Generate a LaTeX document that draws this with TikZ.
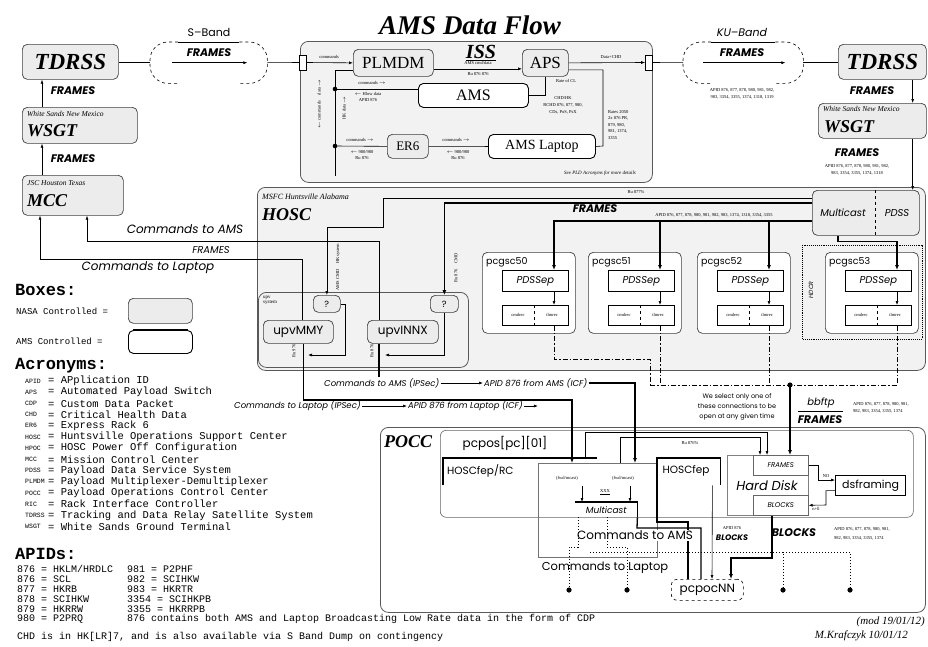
\documentclass[tikz,border=0pt]{standalone}
\usepackage{fontspec}
\setmainfont{Liberation Serif}
\setsansfont{Poppins}
\setmonofont{Liberation Mono}
\usetikzlibrary{arrows.meta}
\definecolor{boxgray}{HTML}{ECECEC}
\definecolor{areagray}{HTML}{F2F2F2}
\newcommand{\myfs}[1]{\fontsize{#1}{#1}\selectfont}
\tikzset{
  nasa/.style={draw=black!75, line width=0.7pt, rounded corners=5pt, fill=boxgray, inner sep=0pt, anchor=north west},
  amsbx/.style={draw=black, line width=0.9pt, rounded corners=5pt, fill=white, inner sep=0pt, anchor=north west},
  area/.style={draw=black!65, line width=0.8pt, rounded corners=8pt, fill=areagray, inner sep=0pt, anchor=north west},
  plainbox/.style={draw=black, line width=0.6pt, fill=white, inner sep=0pt, anchor=north west},
  spot/.style={inner sep=0pt, anchor=north west},
  ln/.style={line width=0.6pt},
  tk/.style={line width=1.3pt},
  arr/.style={-{Latex[length=4pt,width=3pt]}, line width=0.6pt},
  tkarr/.style={-{Latex[length=5pt,width=4pt]}, line width=1.3pt},
  dd/.style={line width=1pt, dash pattern=on 5pt off 2pt on 1.5pt off 2pt},
  dt/.style={line width=1pt, dotted},
  tiny/.style={font=\myfs{4.5}, inner sep=0pt},
  lab/.style={font=\sffamily\itshape\myfs{12}, inner sep=0pt},
  midlab/.style={font=\sffamily\itshape\myfs{8.5}, inner sep=1pt, anchor=west},
  frmlab/.style={font=\sffamily\bfseries\itshape\myfs{11}, inner sep=0pt},
  ttl/.style={font=\bfseries\itshape\myfs{18}, inner sep=0pt, anchor=west},
  sub/.style={font=\itshape\myfs{7.5}, inner sep=0pt, anchor=west},
  monol/.style={font=\ttfamily\myfs{10}, inner sep=0pt, anchor=west},
  monoh/.style={font=\ttfamily\bfseries\myfs{17}, inner sep=0pt, anchor=west},
}
\begin{document}
\begin{tikzpicture}[x=1pt,y=-1pt]
\useasboundingbox (0,0) rectangle (928,646);
\fill[white] (0,0) rectangle (928,646);

% ================= areas
\node[area, minimum width=352, minimum height=141] (iss) at (300,41) {};
\node[area, minimum width=668, minimum height=183] (hosc) at (257,187) {};
\node[area, fill=white, minimum width=545, minimum height=185] (pocc) at (380,427) {};
\node[draw=black!60, line width=0.6pt, rounded corners=6pt, fill=white, minimum width=473, minimum height=87, spot] (pcpos) at (440,430) {};
\node[area, minimum width=210, minimum height=75] (upvsys) at (258,292) {};

% ================= title
\node[font=\bfseries\itshape\myfs{27}] (title) at (470,25) {AMS Data Flow};

% ================= left column
\node[nasa, minimum width=96, minimum height=35, font=\bfseries\itshape\myfs{23}] (tdrssL) at (22,44) {TDRSS};
\node[nasa, minimum width=115, minimum height=36] (wsgtL) at (22,107) {};
\node[sub] at (27,114) {White Sands New Mexico};
\node[ttl] at (27,131) {WSGT};
\node[nasa, minimum width=101, minimum height=40] (mcc) at (22,175) {};
\node[sub] at (27,183) {JSC Houston Texas};
\node[ttl] at (27,201) {MCC};
\draw[arr] ([xshift=20]wsgtL.north west) -- ([xshift=20]tdrssL.south west);
\node[frmlab] at (73,91) {FRAMES};
\draw[arr] ([xshift=20]mcc.north west) -- ([xshift=20]wsgtL.south west);
\node[frmlab] at (73,159) {FRAMES};

% ================= S-band
\node[spot, minimum width=117, minimum height=41] (sband) at (150,42) {};
\draw[ln, dashed, rounded corners=18pt] ([xshift=28]sband.north west) -- (sband.north west) -- (sband.south west) -- ([xshift=28]sband.south west);
\draw[ln, dashed, rounded corners=18pt] ([xshift=-28]sband.north east) -- (sband.north east) -- (sband.south east) -- ([xshift=-28]sband.south east);
\draw[ln] ([xshift=28]sband.north west) -- ([xshift=-28]sband.north east);
\node[font=\sffamily\myfs{11}] at (209,32) {S--Band};
\node[frmlab] at (209,53) {FRAMES};
\draw[arr] ([xshift=22]sband.west) -- ([xshift=-20]sband.east);
\draw[ln] (sband.west) -- (sband.west -| tdrssL.east);

% ================= ISS
\node[draw, fill=white, line width=0.7pt, minimum width=7, minimum height=15, inner sep=0pt] (portL) at (303,62.5) {};
\node[draw, fill=white, line width=0.7pt, minimum width=7, minimum height=15, inner sep=0pt] (portR) at (649,62.5) {};
\draw[ln] (sband.east) -- (portL.west);
\node[font=\bfseries\itshape\myfs{20}] (isslbl) at (481,53) {\underline{ISS}};
\node[nasa, minimum width=80, minimum height=27, font=\myfs{17}] (plmdm) at (353,49) {PLMDM};
\node[nasa, minimum width=46, minimum height=27, font=\myfs{17}] (aps) at (522,49) {APS};
\node[amsbx, minimum width=110, minimum height=24, font=\myfs{16}] (ams) at (418,83) {AMS};
\node[nasa, minimum width=41, minimum height=24, font=\myfs{13}] (er6) at (387,134) {ER6};
\node[amsbx, minimum width=107, minimum height=24, font=\myfs{14}] (lap) at (488,134) {AMS Laptop};

\draw[arr] (portL.east) -- (plmdm.west);
\node[tiny] at (329,57) {commands};
\draw[arr] ([yshift=-6]plmdm.east) -- ([yshift=-6]aps.west);
\node[tiny] at (478,63) {AMS cmd/data};
\node[tiny] at (478,74) {Ru 876 876};
\draw[arr] (aps.east) -- (portR.west);
\node[tiny] at (611,57) {Data+CHD};

\draw[ln] ([yshift=-7]plmdm.west) -| (335,176);
\coordinate (d1) at (335,89);
\coordinate (d2) at (335,146);
\fill (d1) circle (2.3pt);
\fill (d2) circle (2.3pt);
\draw[ln] (d1) -- (d1 -| ams.west);
\node[tiny] at (372,83) {commands $\rightarrow$};
\node[tiny] at (368,94) {$\leftarrow$ Hlow data};
\node[tiny] at (368,100) {APID 876};
\draw[ln] (ams.east) -| (aps.south);
\node[tiny] at (566,81) {Rate of CL};
\node[tiny] at (563,98) {CHD/HK};
\node[tiny] at (563,105) {RCHD 876, 877, 980,};
\node[tiny] at (563,112) {CDs, PoS, PsX};
\draw[ln] ([yshift=-7]aps.east) -| (603,146) -- (lap.east);
\node[tiny, anchor=west] at (608,112) {Rates 2050};
\node[tiny, anchor=west] at (608,118) {2x 876 PR,};
\node[tiny, anchor=west] at (608,125) {879, 980,};
\node[tiny, anchor=west] at (608,131) {981, 1374,};
\node[tiny, anchor=west] at (608,138) {3355};
\draw[ln] (d2) -- (er6.west);
\draw[ln] (er6.east) -- (lap.west);
\node[tiny] at (360,140) {commands $\rightarrow$};
\node[tiny] at (362,152) {$\leftarrow$ 980/980};
\node[tiny] at (362,158) {Ru 876};
\node[tiny] at (456,140) {commands $\rightarrow$};
\node[tiny] at (458,152) {$\leftarrow$ 980/980};
\node[tiny] at (458,158) {Ru 876};
\node[tiny, rotate=90] at (319,104) {$\leftarrow$ commands \quad data $\rightarrow$};
\node[tiny, rotate=90] at (344,108) {HK data $\rightarrow$};
\node[font=\itshape\myfs{5}] at (600,173) {See PLD Acronyms for more details};

% ================= KU band + right column
\node[spot, minimum width=120, minimum height=41] (ku) at (683,42) {};
\draw[ln, dashed, rounded corners=18pt] ([xshift=28]ku.north west) -- (ku.north west) -- (ku.south west) -- ([xshift=28]ku.south west);
\draw[ln, dashed, rounded corners=18pt] ([xshift=-28]ku.north east) -- (ku.north east) -- (ku.south east) -- ([xshift=-28]ku.south east);
\draw[ln] ([xshift=28]ku.north west) -- ([xshift=-28]ku.north east);
\node[font=\sffamily\itshape\myfs{11}] at (742,32) {KU--Band};
\node[frmlab] at (742,53) {FRAMES};
\draw[arr] ([xshift=20]ku.west) -- ([xshift=-18]ku.east);
\node[tiny] at (742,90) {APID 876, 877, 878, 980, 981, 982,};
\node[tiny] at (742,97) {983, 3354, 3355, 1374, 1318, 1319};
\draw[ln] (portR.east) -- (ku.west);
\node[nasa, minimum width=88, minimum height=35, font=\bfseries\itshape\myfs{23}] (tdrssR) at (838,44) {TDRSS};
\draw[ln] (ku.east) -- (ku.east -| tdrssR.west);
\node[nasa, minimum width=108, minimum height=35] (wsgtR) at (818,103) {};
\node[sub] at (823,109) {White Sands New Mexico};
\node[ttl] at (824,127) {WSGT};
\draw[arr] ([xshift=-14]tdrssR.south east) -- ([xshift=-14]wsgtR.north east);
\node[frmlab] at (872,91) {FRAMES};
\node[frmlab] at (857,153) {FRAMES};
\node[tiny] at (857,166) {APID 876, 877, 878, 980, 981, 982,};
\node[tiny] at (857,173) {983, 3354, 3355, 1374, 1318};

% ================= HOSC
\node[font=\itshape\myfs{8}, anchor=west, inner sep=0pt] at (262,197) {MSFC Huntsville Alabama};
\node[ttl] at (262,215) {HOSC};
\node[nasa, minimum width=107, minimum height=45] (mcast) at (812,190) {};
\draw[ln, dashed] ([xshift=63]mcast.north west) -- ([xshift=63]mcast.south west);
\node[font=\sffamily\itshape\myfs{10}] at (843,213) {Multicast};
\node[font=\sffamily\itshape\myfs{10}] at (897,213) {PDSS};
\draw[arr] ([xshift=-14]wsgtR.south east) -- ([xshift=-14]wsgtR.south east |- mcast.north);

\node[font=\myfs{5}, align=left, anchor=north west, inner sep=0pt] at (263,296) {upv\\system};
\node[nasa, minimum width=27, minimum height=17, font=\sffamily\myfs{9}] (q1) at (313,295) {?};
\node[nasa, minimum width=28, minimum height=17, font=\sffamily\myfs{9}] (q2) at (430,295) {?};
\node[nasa, minimum width=70, minimum height=23, font=\sffamily\myfs{12}] (umy) at (263,320) {upvMMY};
\node[nasa, minimum width=71, minimum height=23, font=\sffamily\myfs{12}] (uinx) at (367,320) {upvINNX};

\draw[arr] ([xshift=-24]uinx.north) |- (87,241) -- ([xshift=65]mcc.south west);
\draw[arr] ([xshift=4]umy.north) |- (40,259) -- ([xshift=18]mcc.south west);
\node[lab] at (185,229) {Commands to AMS};
\node[lab, font=\sffamily\itshape\myfs{10}] at (211,250) {FRAMES};
\node[lab] at (148,268) {Commands to Laptop};

\draw[arr] ([yshift=15]mcast.west) -| (383,227) -| (q1.north);
\draw[tkarr] ([yshift=10]mcast.west) -| (q2.north);
\node[tiny] at (636,192) {Ru 877\%};
\node[tiny, rotate=90] at (338,267) {AMS CMD \quad HK system};
\node[tiny, rotate=90] at (456,268) {Ru 876 \quad CMD};
\node[frmlab] at (595,209) {FRAMES};
\draw[arr] (q1.east) -| (345,355) -- (308,355);
\draw[arr] (q2.south) |- (385,355);
\node[tiny, rotate=90] at (294,351) {Ru 976};
\node[tiny, rotate=90] at (372,351) {Ru 876};

\foreach \ox/\nm in {482/50,588/51,697/52,825/53} {
  \node[draw=black!75, line width=0.7pt, rounded corners=5pt, fill=white, minimum width=93, minimum height=81, spot] (pc\nm) at (\ox,252) {};
  \node[font=\sffamily\myfs{9.5}, anchor=west, inner sep=0pt] at (\ox+4,262) {pcgsc\nm};
  \node[plainbox, minimum width=66, minimum height=21, font=\sffamily\itshape\myfs{10}] (pd\nm) at (\ox+20,270) {PDSSep};
  \node[plainbox, minimum width=66, minimum height=20] (lo\nm) at (\ox+20,305) {};
  \draw[ln, dashed] ([xshift=32]lo\nm.north west) -- ([xshift=32]lo\nm.south west);
  \node[tiny] at (\ox+36,315) {cmdrec};
  \node[tiny] at (\ox+70,315) {tlmrec};
  \coordinate (a\nm) at ([xshift=52]pd\nm.north west);
  \coordinate (b\nm) at ([xshift=52]lo\nm.south west);
  \draw[arr] ([xshift=52]pd\nm.south west) -- ([xshift=52]lo\nm.north west);
}
\coordinate (bus221) at ([yshift=-8]mcast.west);
\draw[tkarr] (bus221) -| (a50);
\draw[tkarr] (a51 |- bus221) -- (a51);
\draw[tkarr] (a52 |- bus221) -- (a52);
\draw[tkarr] ([xshift=26]mcast.south west) -- ++(0,6) -| (a53);
\node[tiny] at (714,215) {APID 876, 877, 878, 980, 981, 982, 983, 1374, 1318, 3354, 3355};
\draw[line width=0.9pt, densely dotted] (802,245) rectangle (922,339);
\node[font=\sffamily\itshape\myfs{6}, rotate=90] at (811,290) {HDCR};

\coordinate (y385) at (0,385);
\draw[dd] (b50) |- (650,359) -- (650,385);
\draw[dd] (b51) -- (b51 |- y385);
\draw[dd] (b52) -- (b52 |- y385);
\draw[dd] (b53) -- (b53 |- y385);
\draw[dd] (650,385) -- (b53 |- y385);
\coordinate (bbdot) at (790,385);
\fill (bbdot) circle (2.6pt);

% ================= middle labels
\node[midlab] (cAMS) at (323,383) {Commands to AMS (IPSec)};
\node[midlab] (fAMS) at (483,383) {APID 876 from AMS (ICF)};
\draw[arr] (cAMS.east) -- (fAMS.west);
\draw[tk] ([xshift=-24]uinx.south) -- ([xshift=-24]uinx.south |- cAMS.north);
\node[midlab] (cLap) at (233,406) {Commands to Laptop (IPSec)};
\node[midlab] (fLap) at (407,406) {APID 876 from Laptop (ICF)};
\draw[arr] (cLap.east) -- (fLap.west);
\draw[arr] (fLap.east) -- ([xshift=14]fLap.east);

% ================= POCC
\node[ttl] at (384,442) {POCC};
\node[font=\sffamily\myfs{12}] at (505,443) {pcpos[pc][01]};
\node[spot, minimum width=154, minimum height=27] (hfrc) at (443,458) {};
\draw[tk] (hfrc.south west) -- (hfrc.north west) -- (hfrc.north east);
\node[font=\sffamily\myfs{10.5}, anchor=west, inner sep=0pt] at (447,471) {HOSCfep/RC};
\node[draw=black!55, line width=0.5pt, minimum width=119, minimum height=94, spot] (fwd) at (538,463) {};
\node[spot, minimum width=63, minimum height=27] (hf) at (657,458) {};
\draw[tk] (hf.south west) -- (hf.north west) -- (hf.north east) -- (hf.south east);
\node[font=\sffamily\myfs{10.5}] at (686,471) {HOSCfep};
\node[tiny] at (567,478) {(fwd/mcast)};
\node[tiny] at (623,478) {(fwd/mcast)};
\node[spot, minimum width=62, minimum height=15] (mc) at (575,502) {};
\draw[tk] (mc.north west) -- (mc.north east) -- (mc.south east);
\node[font=\sffamily\itshape\myfs{9}] at (mc) {Multicast};
\node[tiny] at (605,492) {\underline{XXX}};
\coordinate (m1) at (582,486);
\coordinate (m2) at (630,486);
\draw[arr] (m1) -- (m1 |- mc.north);
\draw[arr] (m2) -- (m2 |- mc.north);

\coordinate (c400) at (572,400);
\draw[tkarr] ([xshift=5]umy.south) |- (c400) -- (c400 |- fwd.north);
\draw[tkarr] (fAMS.east) -| ([xshift=97]fwd.north west);

\node[draw=black!50, line width=0.5pt, minimum width=81, minimum height=60, spot] (hd) at (727,455) {};
\node[plainbox, draw=black!60, minimum width=55, minimum height=20, font=\sffamily\itshape\myfs{7}] (hdfr) at (753,455) {FRAMES};
\node[plainbox, draw=black!60, minimum width=55, minimum height=20, font=\sffamily\itshape\myfs{7}] (hdbl) at (753,495) {BLOCKS};
\node[font=\sffamily\itshape\myfs{13}] at (767,486) {Hard Disk};
\node[plainbox, line width=1.2pt, minimum width=70, minimum height=20, font=\sffamily\myfs{11}] (dsf) at (835,475) {dsframing};
\coordinate (k1) at (818,480);
\draw[arr] (hdfr.east) -| (k1) -- (k1 -| dsf.west);
\draw[arr] ([yshift=-5]dsf.west) -| (826,505) -- (hdbl.east);
\node[tiny] at (826,476) {NO};
\node[tiny] at (816,509) {n+ll};

\draw[tkarr] (bbdot) -- (bbdot |- hdfr.north);
\node[font=\sffamily\fontsize{6.5}{10}\selectfont, align=center] at (737,407) {We select only one of\\these connections to be\\open at any given time};
\node[font=\sffamily\itshape\myfs{10}] at (821,403) {bbftp};
\draw[ln] (798,411) -- (843,411);
\node[frmlab] at (820,420) {FRAMES};
\node[tiny, anchor=west] at (853,404) {APID 876, 877, 878, 980, 981,};
\node[tiny, anchor=west] at (853,411) {982, 983, 3354, 3355, 1374};

\draw[arr] ([xshift=82]fwd.north west) |- (760,437) -- ([xshift=7]hdfr.north west);
\draw[arr] ([xshift=-12]hfrc.north east) |- (767,432) -- ([xshift=14]hdfr.north west);
\node[tiny] at (690,443) {Ru 876\%};

\node[draw, dashed, line width=0.6pt, rounded corners=6pt, fill=white, minimum width=72, minimum height=21, font=\sffamily\myfs{12}, spot] (pcpoc) at (671,579) {pcpocNN};
\draw[tkarr] ([xshift=19]hdbl.south west) |- (731,558) -- ([xshift=60]pcpoc.north west);
\coordinate (k3) at (657,522);
\draw[tk] ([xshift=17]pcpoc.north west) |- (k3) -- (hf.south west);
\draw[tk] ([xshift=30]pcpoc.north west) |- (637,528) -- (mc.south east);
\draw[arr] ([xshift=-8]hf.south east) -- ([xshift=41]pcpoc.north west);
\node[font=\sffamily\myfs{12}, fill=white, inner sep=1pt] at (635,535) {Commands to AMS};
\node[font=\sffamily\myfs{11.5}, fill=white, inner sep=1pt] at (605,568) {Commands to Laptop};
\node[font=\sffamily\bfseries\itshape\myfs{11}] at (794,533) {BLOCKS};
\node[tiny, anchor=west] at (834,529) {APID 876, 877, 878, 980, 981,};
\node[tiny, anchor=west] at (834,538) {982, 983, 3354, 3355, 1374};
\node[tiny] at (732,528) {APID 876};
\node[font=\sffamily\bfseries\itshape\myfs{8}] at (732,538) {BLOCKS};

\coordinate (p1) at (569,590);
\coordinate (p2) at (627,590);
\coordinate (p3) at (783,590);
\coordinate (p4) at (850,590);
\draw[dt] (578,517) -- (578,547) -| (p1);
\draw[dt] (607,517) -- (607,547) -| (p2);
\draw[dt] (590,552) -- (783,552) -- (p3);
\draw[dt] (783,552) -- (850,552) -- (p4);
\foreach \p in {p1,p2,p3,p4} { \fill (\p) circle (2.6pt); }

% ================= legend
\node[monoh] at (15,290) {Boxes:};
\node[font=\ttfamily\myfs{9}, anchor=west, inner sep=0pt] at (16,311) {NASA Controlled =};
\node[nasa, minimum width=64, minimum height=25] (legN) at (128,298) {};
\node[font=\ttfamily\myfs{9}, anchor=west, inner sep=0pt] at (16,341) {AMS  Controlled =};
\node[amsbx, minimum width=64, minimum height=23] (legA) at (128,330) {};
\draw[line width=1.6pt] ([xshift=5]legA.north west) -- ([xshift=-5]legA.north east);

\node[monoh] at (15,366) {Acronyms:};
\foreach \i/\a/\d in {0/APID/APplication ID, 1/APS/Automated Payload Switch, 2/CDP/Custom Data Packet, 3/CHD/Critical Health Data, 4/ER6/Express Rack 6, 5/HOSC/Huntsville Operations Support Center, 6/HPOC/HOSC Power Off Configuration, 7/MCC/Mission Control Center, 8/PDSS/Payload Data Service System, 9/PLMDM/Payload Multiplexer-Demultiplexer, 10/POCC/Payload Operations Control Center, 11/RIC/Rack Interface Controller, 12/TDRSS/Tracking and Data Relay Satellite System, 13/WSGT/White Sands Ground Terminal} {
  \node[font=\ttfamily\myfs{6.5}, anchor=west, inner sep=0pt] at (25,381+11.2*\i) {\a};
  \node[font=\ttfamily\myfs{10.5}, anchor=west, inner sep=0pt] at (48,381+11.2*\i) {= \d};
}

\node[monoh] at (15,554) {APIDs:};
\node[monol] at (17,569) {876 = HKLM/HRDLC};
\node[monol] at (127,569) {981 = P2PHF};
\node[monol] at (17,579) {876 = SCL};
\node[monol] at (127,579) {982 = SCIHKW};
\node[monol] at (17,589) {877 = HKRB};
\node[monol] at (127,589) {983 = HKRTR};
\node[monol] at (17,599) {878 = SCIHKW};
\node[monol] at (127,599) {3354 = SCIHKPB};
\node[monol] at (17,609) {879 = HKRRW};
\node[monol] at (127,609) {3355 = HKRRPB};
\node[monol] at (17,619) {980 = P2PRQ};
\node[monol] at (127,619) {876 contains both AMS and Laptop Broadcasting Low Rate data in the form of CDP};
\node[monol] at (17,637) {CHD is in HK[LR]7, and is also available via S Band Dump on contingency};

% ================= credits
\node[font=\itshape\myfs{11}, anchor=east, inner sep=0pt] at (925,622) {(mod 19/01/12)};
\node[font=\itshape\myfs{11}, anchor=east, inner sep=0pt] at (908,636) {M.Krafczyk 10/01/12};
\end{tikzpicture}
\end{document}
